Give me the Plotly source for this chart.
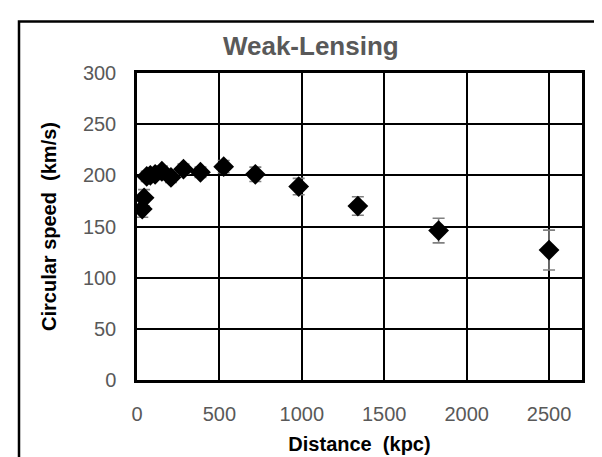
import plotly.graph_objects as go

distance_kpc = [32, 43, 59, 81, 110, 151, 206, 282, 385, 526, 718, 981, 1340, 1830, 2500]
speed_kms = [167, 178, 199, 200, 201, 204, 198, 206, 203, 208.5, 201, 189, 170, 146, 127]
speed_err = [8, 8, 5, 5, 5, 5, 5, 5, 5, 6, 7, 8, 9, 12, 19.5]

x_ticks = [0, 500, 1000, 1500, 2000, 2500]
y_ticks = [0, 50, 100, 150, 200, 250, 300]

W, H = 602, 457
L, R, T, B = 129, 28, 65, 82
pw, ph = W - L - R, H - T - B

fig = go.Figure()
fig.add_trace(go.Scatter(
    x=distance_kpc, y=speed_kms, mode="markers",
    marker=dict(symbol="diamond", size=16, color="black"),
    error_y=dict(type="data", array=speed_err, visible=True,
                 color="#808080", thickness=1.6, width=6),
    showlegend=False,
))

tickfont = dict(family="Liberation Sans, Arial, sans-serif", size=20, color="#595959")
titlefont = dict(family="Liberation Sans, Arial, sans-serif", size=20, color="black")

fig.update_layout(
    width=W, height=H,
    margin=dict(l=L, r=R, t=T, b=B),
    paper_bgcolor="white", plot_bgcolor="white",
    title=dict(text="<b>Weak-Lensing</b>", x=0.503, xanchor="center",
               y=1 - 38 / H, yanchor="middle", yref="container",
               font=dict(family="Liberation Sans, Arial, sans-serif", size=26, color="#595959")),
    xaxis=dict(range=[0, 2700], tickvals=x_ticks, ticktext=[str(v) for v in x_ticks],
               showgrid=True, gridcolor="black", gridwidth=1.7,
               showline=True, linecolor="black", linewidth=2.5, mirror=True,
               ticks="", tickfont=tickfont, ticklabelstandoff=14, zeroline=False,
               title=dict(text="<b>Distance  (kpc)</b>", font=titlefont, standoff=14)),
    yaxis=dict(range=[0, 300], tickvals=y_ticks, ticktext=[str(v) for v in y_ticks],
               showgrid=True, gridcolor="black", gridwidth=1.7,
               showline=True, linecolor="black", linewidth=2.5, mirror=True,
               ticks="", tickfont=tickfont, ticklabelstandoff=14, zeroline=False,
               title=dict(text="<b>Circular speed  (km/s)</b>", font=titlefont, standoff=21)),
    shapes=[dict(type="rect", xref="paper", yref="paper",
                 x0=(11 - L) / pw, x1=1.5, y0=-1.0, y1=1 + (T - 13) / ph,
                 line=dict(color="black", width=2.5), fillcolor="rgba(0,0,0,0)")],
)

fig.write_html("out.html")
